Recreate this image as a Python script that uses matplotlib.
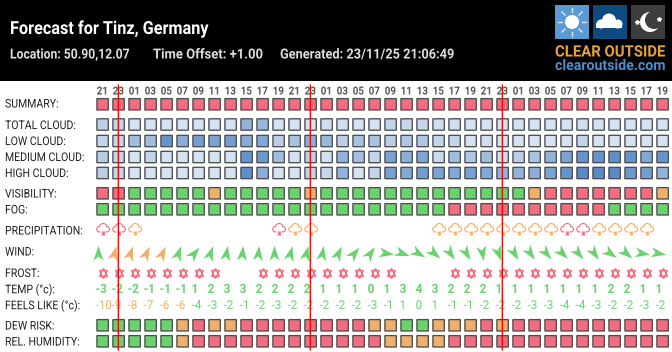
import matplotlib
matplotlib.use('Agg')
from matplotlib import pyplot as plt
from matplotlib.markers import MarkerStyle
from matplotlib.patches import Rectangle, PathPatch, Circle
from matplotlib.patheffects import AbstractPathEffect
from matplotlib.path import Path
from matplotlib.transforms import Affine2D

plt.rcParams['font.family'] = 'Roboto'

# Data

hours = ['21','23','01','03','05','07','09','11','13','15','17','19',
         '21','23','01','03','05','07','09','11','13','15','17','19',
         '21','23','01','03','05','07','09','11','13','15','17','19']

summary = list('r' * 36)

total_cloud = [25,20,8,8,8,8,8,8,8,55,50,8,8,8,12,12,8,8,22,18,20,12,12,8,8,8,10,8,8,8,12,10,8,8,8,8]
low_cloud = [22,18,45,45,85,60,75,70,75,62,65,28,40,58,50,25,40,38,28,35,35,22,22,8,12,8,8,6,6,8,22,8,8,8,8,8]
medium_cloud = [30,20,8,22,8,8,8,8,8,85,80,45,10,25,10,55,42,22,70,58,68,15,45,35,45,12,28,38,55,70,85,85,90,85,65,85]
high_cloud = [28,20,8,8,8,8,8,8,8,90,60,8,8,22,20,55,8,22,72,65,75,70,65,72,65,55,55,60,70,85,95,95,95,80,75,55]

visibility = list('rrgggggogggggogggggggggggggorrrrrrro')
fog = list('ggggggggggggggggggggggrrrrrrrrrrgggg')
precip = list('rro........roo.......oooooooorroooo.')
wind_dir = [0,15,20,25,25,20,40,20,10,5,5,0,15,15,10,25,40,35,100,110,120,130,145,150,170,160,150,145,140,135,140,145,125,130,100,100]
wind_col = list('gooooggggggggggggggggggggggggggggggg')
frost = [1,1,1,1,1,1,1,1,0,0,1,1,1,1,1,1,1,1,1,0,0,0,1,1,1,1,1,1,1,1,1,1,1,1,1,1]
temp = [-3,-2,-2,-1,-1,-1,1,2,3,3,2,2,2,2,1,1,1,0,1,3,4,3,2,2,2,1,1,1,1,1,1,1,2,2,1,1]
feels = [-10,-9,-8,-7,-6,-6,-4,-3,-2,-1,-2,-3,-2,-2,-2,-2,-2,-3,-1,1,0,1,-1,-1,-2,-2,-2,-3,-3,-4,-4,-3,-2,-2,-3,-2]
dew = list('gggggoroo' + 'rrrrrrrr' + 'oo' + 'gg' + 'ooo' + 'r' + 'o' + 'rrrrrrrrrr')
humidity = list('gggggo' + 'rrrrrrrrrrrr' + 'oooo' + 'rrrrrrrrrrrrrr')

colours = {'g': '#69d36c', 'o': '#f0b06c', 'r': '#f26d80'}
dark = '#4d4d4d'


class Squeeze(AbstractPathEffect):
    # narrows the glyphs, Roboto Condensed is not installed
    def __init__(self, sx):
        super().__init__()
        self.sx = sx

    def draw_path(self, renderer, gc, tpath, affine, rgbFace=None):
        renderer.draw_path(gc, tpath, Affine2D().scale(self.sx, 1) + affine, rgbFace)


def narrow_text(ax, x, y, s, sx, **kw):
    return ax.text(x, y, s, va='center', path_effects=[Squeeze(sx)], **kw)


def cloud_colour(v):
    # light to dark blue with the amount of cloud
    a = (0xe0, 0xea, 0xf6)
    b = (0x50, 0x85, 0xc3)
    t = v / 100
    return tuple((a[i] + (b[i] - a[i]) * t) / 255 for i in range(3))


def col_x(i):
    return 102.6 + 16 * i


def draw_cells(ax, y, cols):
    for i, c in enumerate(cols):
        ax.add_patch(Rectangle((col_x(i) - 5.7, y - 5.7), 11.4, 11.4, facecolor=c,
                               edgecolor=dark, linewidth=0.95, snap=False, zorder=2))


fig = plt.figure(figsize=(6.72, 3.52), dpi=100, facecolor='white')
ax = fig.add_axes([0, 0, 1, 1])
ax.set_xlim(0, 672)
ax.set_ylim(352, 0)
ax.axis('off')

# Header band

ax.add_patch(Rectangle((0, 0), 672, 81, facecolor='black', edgecolor='none'))
narrow_text(ax, 10, 29, 'Forecast for Tinz, Germany', 0.90, color='white', weight='bold', fontsize=13)
sub = '#dddddd'
narrow_text(ax, 10, 54.5, 'Location: 50.90,12.07', 0.875, color=sub, weight='bold', fontsize=10)
narrow_text(ax, 153, 54.5, 'Time Offset: +1.00', 0.94, color=sub, weight='bold', fontsize=10)
narrow_text(ax, 280, 54.5, 'Generated: 23/11/25 21:06:49', 0.92, color=sub, weight='bold', fontsize=10)

# Logo

ax.add_patch(Rectangle((555, 5), 34, 34, facecolor='#5b9bd5', edgecolor='none'))
ax.add_patch(Rectangle((593, 5), 34, 34, facecolor='#0d4a80', edgecolor='none'))
ax.add_patch(Rectangle((631, 5), 34, 34, facecolor='#3d3d3d', edgecolor='none'))
ax.add_patch(Circle((572, 22), 7, facecolor='white', edgecolor='none'))
ax.plot([572, 572], [8, 12], color='#dbe9f6', lw=1)
ax.plot([572, 572], [32, 36], color='#dbe9f6', lw=1)
ax.plot([558, 562], [22, 22], color='#dbe9f6', lw=1)
ax.plot([582, 586], [22, 22], color='#dbe9f6', lw=1)
ax.plot([562, 565], [12, 15], color='#dbe9f6', lw=1)
ax.plot([582, 579], [12, 15], color='#dbe9f6', lw=1)
ax.plot([562, 565], [32, 29], color='#dbe9f6', lw=1)
ax.plot([582, 579], [32, 29], color='#dbe9f6', lw=1)
ax.add_patch(Rectangle((596, 23), 26, 5, facecolor='white', edgecolor='none'))
ax.add_patch(Circle((601, 24), 4.5, facecolor='white', edgecolor='none'))
ax.add_patch(Circle((609, 20.5), 7, facecolor='white', edgecolor='none'))
ax.add_patch(Circle((618, 24), 4.5, facecolor='white', edgecolor='none'))
ax.add_patch(Circle((650, 22), 10, facecolor='white', edgecolor='none'))
ax.add_patch(Circle((654, 20), 9, facecolor='#3d3d3d', edgecolor='none'))
ax.plot([659, 637], [19, 22], ls='none', marker='*', ms=3, color='white')
narrow_text(ax, 555, 52, 'CLEAR OUTSIDE', 0.95, color='#e9a23b', weight='bold', fontsize=11.3)
narrow_text(ax, 555, 66, 'clearoutside.com', 0.96, color='#4f8ec9', weight='bold', fontsize=10.6)

# Row labels

label_rows = [('SUMMARY:', 104), ('TOTAL CLOUD:', 125.5), ('LOW CLOUD:', 141.5), ('MEDIUM CLOUD:', 157.5),
              ('HIGH CLOUD:', 173.5), ('VISIBILITY:', 194), ('FOG:', 210), ('PRECIPITATION:', 231),
              ('WIND:', 252), ('FROST:', 273.5), ('TEMP (*c):', 289.5), ('FEELS LIKE (*c):', 305.5),
              ('DEW RISK:', 326), ('REL. HUMIDITY:', 342)]
for name, y in label_rows:
    narrow_text(ax, 5, y, name.replace('*', '\u00b0'), 0.88, color='#222222', fontsize=8.6)

# Hours

for i, h in enumerate(hours):
    narrow_text(ax, col_x(i) + 0.5, 91.5, h, 0.88, color='#555555', weight='bold', fontsize=8, ha='center')

# Cell rows

draw_cells(ax, 104.3, [colours[c] for c in summary])
draw_cells(ax, 124.5, [cloud_colour(v) for v in total_cloud])
draw_cells(ax, 141, [cloud_colour(v) for v in low_cloud])
draw_cells(ax, 157, [cloud_colour(v) for v in medium_cloud])
draw_cells(ax, 173, [cloud_colour(v) for v in high_cloud])
draw_cells(ax, 193.3, [colours[c] for c in visibility])
draw_cells(ax, 209.3, [colours[c] for c in fog])
draw_cells(ax, 325.3, [colours[c] for c in dew])
draw_cells(ax, 341.3, [colours[c] for c in humidity])

# Precipitation icons, open cloud outline with a small flake under it

cloud_verts = [(-2.5, 3.5), (-7.5, 4), (-7.5, -2), (-3.5, -2), (-3, -6), (3.5, -6), (3.5, -2),
               (7.5, -2), (7.5, 4), (2.5, 3.5)]
cloud_codes = [Path.MOVETO] + [Path.CURVE4] * 9
cloud_path = Path(cloud_verts, cloud_codes)
for i, c in enumerate(precip):
    if c == '.':
        continue
    tr = Affine2D().translate(col_x(i) + 0.5, 228.5) + ax.transData
    ax.add_patch(PathPatch(cloud_path, facecolor='none', edgecolor=colours[c], linewidth=0.8, transform=tr, zorder=3))
    ax.plot(col_x(i), 232.5, marker='^', ms=2.8, color=colours[c], mec='none', zorder=3)
    ax.plot(col_x(i), 232.5, marker='v', ms=2.8, color=colours[c], mec='none', zorder=3)

# Wind arrows

arrow = Path([(0, 1), (0.66, -0.95), (0, -0.4), (-0.66, -0.95), (0, 1)],
             [Path.MOVETO, Path.LINETO, Path.LINETO, Path.LINETO, Path.CLOSEPOLY])
for i, d in enumerate(wind_dir):
    m = MarkerStyle(arrow, transform=Affine2D().rotate_deg(-d))
    ax.plot(col_x(i) - 5, 253, marker=m, ms=11, color=colours[wind_col[i]], mec='none', zorder=3)

# Frost stars

for i, f in enumerate(frost):
    if f:
        ax.plot(col_x(i), 272, marker='^', ms=6, mfc='none', mec=colours['r'], mew=1.0, zorder=3)
        ax.plot(col_x(i), 274, marker='v', ms=6, mfc='none', mec=colours['r'], mew=1.0, zorder=3)

# Temperatures

for i, t in enumerate(temp):
    narrow_text(ax, col_x(i) - 7, 289.5, str(t), 0.92, color='#69d36c', weight='bold', fontsize=9.2)
for i, t in enumerate(feels):
    c = colours['o'] if t <= -5 else '#69d36c'
    narrow_text(ax, col_x(i) - 7, 305.5, str(t), 0.95, color=c, fontsize=8.8)

# Red lines at midnight

for i, h in enumerate(hours):
    if h == '23':
        ax.plot([col_x(i) - 0.3, col_x(i) - 0.3], [85, 350], color='#ff0000', lw=0.95, snap=False, zorder=5)

fig.savefig('out.png', dpi=100, facecolor='white')
